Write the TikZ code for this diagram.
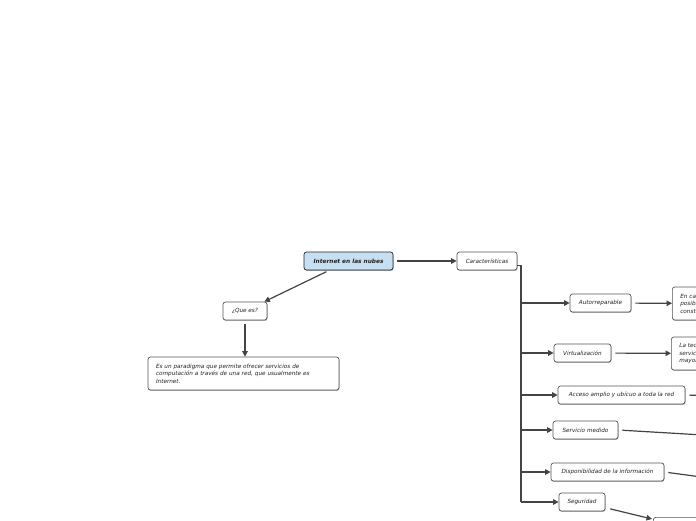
\documentclass[tikz,border=0pt]{standalone}
\usepackage{fontspec}
\setmainfont{DejaVu Sans}
\usetikzlibrary{arrows.meta,shadows,calc}
\definecolor{edgec}{HTML}{444444}
\definecolor{boxc}{HTML}{555555}
\definecolor{mainfill}{HTML}{C7DFF3}
\definecolor{txt}{HTML}{222222}
\tikzset{
  box/.style={draw=boxc, line width=0.7pt, rounded corners=2.5pt, fill=white,
    inner sep=0pt, minimum height=18pt, align=center, text=txt,
    font=\fontsize{5.7}{7.4}\selectfont\itshape,
    drop shadow={shadow xshift=0.5pt, shadow yshift=-0.9pt, fill=black!50, opacity=0.6}},
  mainbox/.style={box, fill=mainfill, draw=black!85,
    font=\fontsize{5.8}{7}\selectfont\bfseries\itshape},
  bigbox/.style={box, minimum height=33pt, align=left, inner xsep=8pt},
  arr/.style={draw=edgec, line width=1.2pt, -{Triangle[length=5.5pt,width=5.5pt]}},
  ln/.style={draw=edgec, line width=1.2pt},
}
\begin{document}
\begin{tikzpicture}[x=1pt,y=-1pt]
\useasboundingbox (0,0) rectangle (696,520);
\fill[white] (0,0) rectangle (696,520);
\begin{scope}
\clip (0,0) rectangle (696,520);
\node[mainbox, minimum width=89pt] (main) at (348.5,261) {Internet en las nubes};
\node[box, minimum width=60pt] (car) at (487,261) {Características};
\node[box, minimum width=44pt] (que) at (245,311) {¿Que es?};
\node[bigbox, text width=175pt] (desc) at (243.5,373.5)
  {Es un paradigma que permite ofrecer servicios de\\computación a través de una red, que usualmente es\\Internet.};
\node[box, minimum width=61pt] (auto) at (600.5,303) {Autorreparable};
\node[bigbox, anchor=west, text width=110pt] (enca) at (672,303.5)
  {En caso de fallo,\\posible recuperarse\\constantemente};
\node[box, minimum width=57pt] (virt) at (582.5,353) {Virtualización};
\node[bigbox, anchor=west, text width=110pt] (latec) at (671,353.5)
  {La tecnología de\\servicios en la nube\\mayor parte};
\node[box, minimum width=127pt] (acc) at (621.5,395) {Acceso amplio y ubícuo a toda la red};
\node[box, minimum width=65pt] (serv) at (585.5,430) {Servicio medido};
\node[box, minimum width=113pt] (disp) at (607.5,472) {Disponibilidad de la información};
\node[box, minimum width=46pt] (seg) at (582,502) {Seguridad};
\node[box, anchor=north west, minimum width=80pt, minimum height=30pt] (bot) at (653,517) {};

\coordinate (accR) at (720,396);
\coordinate (servR) at (720,436);
\coordinate (dispR) at (720,479.5);
\coordinate (botT) at (652,519);

\draw[arr, shorten <=4pt] (main) -- (car);
\draw[arr, shorten <=3pt] (main) -- (que);
\draw[arr, shorten <=4pt] (que.south) -- (que.south |- desc.north);

\coordinate (bus) at ($(car.east)+(3.5,5)$);
\draw[ln, line width=0.9pt] ($(car.east)+(0,4)$) -- ++(4.5,0);
\draw[ln, line width=1.6pt] (bus) -- (bus |- seg);
\foreach \c in {auto,virt,acc,serv,disp,seg}
  \draw[arr] (bus |- \c.west) -- (\c.west);

\draw[arr, shorten <=4pt] (auto) -- (enca);
\draw[arr, shorten <=4pt] (virt) -- (latec);
\draw[ln, shorten <=4pt] (acc.east) -- (accR);
\draw[ln, shorten <=4pt] (serv.east) -- (servR);
\draw[ln, shorten <=4pt] (disp.east) -- (dispR);
\draw[arr, shorten <=5pt] (seg) -- (botT);
\end{scope}
\end{tikzpicture}
\end{document}
